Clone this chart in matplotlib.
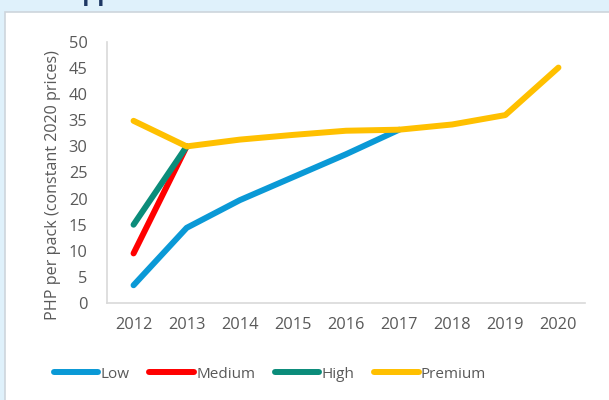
import matplotlib.pyplot as plt
from matplotlib.patches import Rectangle

years = ['2012', '2013', '2014', '2015', '2016', '2017', '2018', '2019', '2020']
# only the visible parts of the lower tiers (they merge into Premium)
low = [3.4, 14.4, 19.7, 24.1, 28.5, 33.2, None, None, None]
medium = [9.5, 30.0, None, None, None, None, None, None, None]
high = [15.0, 30.0, None, None, None, None, None, None, None]
premium = [34.9, 30.0, 31.3, 32.2, 33.0, 33.2, 34.2, 36.0, 45.1]

series = [('Low', low, '#0A99D6'),
          ('Medium', medium, '#FF0000'),
          ('High', high, '#0B8C7A'),
          ('Premium', premium, '#FFC000')]

plt.rcParams['font.family'] = ['Open Sans', 'DejaVu Sans']
grey = '#595959'

fig = plt.figure(figsize=(6.09, 4.0), dpi=100)
fig.patch.set_facecolor('#DFF1FB')

# white panel behind the chart
panel = Rectangle((5 / 609, -0.01), 1.0, 1.01 - 12 / 400, transform=fig.transFigure,
                  facecolor='white', edgecolor='#CDD5DC', linewidth=1.2, zorder=-5)
fig.patches.append(panel)

# heading above the panel, cut off by the top edge
fig.text(66 / 609, 1.0 + 0.5 / 400, 'App', fontsize=17, fontweight='bold',
         color='#1F3864', va='baseline', ha='left')

ax = fig.add_axes([107 / 609, 1 - 303 / 400, (585 - 107) / 609, (303 - 42) / 400])
ax.set_facecolor('none')

x = list(range(len(years)))
for name, vals, col in series:
    yv = [float('nan') if v is None else v for v in vals]
    ax.plot(x, yv, color=col, linewidth=4.3, solid_capstyle='round',
            solid_joinstyle='round', label=name)

ax.set_xlim(-0.5, len(years) - 0.5)
ax.set_ylim(0, 50)
ax.set_yticks(range(0, 51, 5))
ax.set_xticks(x)
ax.set_xticklabels(years)

for side in ['top', 'right']:
    ax.spines[side].set_visible(False)
for side in ['left', 'bottom']:
    ax.spines[side].set_color('#D9D9D9')
    ax.spines[side].set_linewidth(1.2)

ax.tick_params(axis='both', length=0, labelsize=11.8, labelcolor=grey)
ax.tick_params(axis='y', pad=14)
ax.tick_params(axis='x', pad=10)

fig.text(53 / 609, 1 - 185 / 400, 'PHP per pack (constant 2020 prices)',
         rotation=90, ha='center', va='center', fontsize=11.6, color=grey)

leg = fig.legend(loc='center', bbox_to_anchor=(270 / 609, 1 - 374 / 400), ncol=4,
                 frameon=False, fontsize=11, handlelength=2.9, handletextpad=0.15,
                 columnspacing=1.3)
for t in leg.get_texts():
    t.set_color(grey)

fig.savefig('out.png', dpi=100, facecolor=fig.get_facecolor())
